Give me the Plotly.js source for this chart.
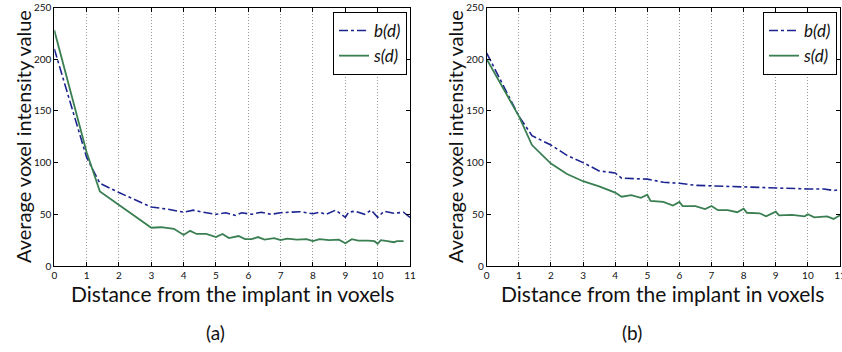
<!DOCTYPE html>
<html>
<head>
<meta charset="utf-8">
<script src="https://cdn.plot.ly/plotly-3.0.1.min.js"></script>
<style>html,body{margin:0;padding:0;background:#fff;}#chart{width:842px;height:352px;}</style>
</head>
<body>
<div id="chart"></div>
<script>
// Panel (a)
const a_b_d = [0, 1, 1.41, 2, 3, 3.5, 4, 4.3, 4.6, 5, 5.3, 5.6, 5.8, 6.1, 6.4, 6.7, 7, 7.3, 7.6, 8, 8.2, 8.4, 8.7, 9, 9.1, 9.3, 9.6, 9.8, 10, 10.2, 10.5, 10.8, 11];
const a_b_v = [210, 105, 80, 71, 57, 55, 52, 54, 52, 50, 51.5, 49, 51.5, 50, 52, 50, 51.5, 52, 52.5, 50.5, 52, 50, 54, 47, 52, 53, 50, 54, 47, 53, 51, 52, 47];
const a_s_d = [0, 1, 1.41, 3, 3.3, 3.7, 4, 4.2, 4.4, 4.7, 5, 5.2, 5.4, 5.7, 5.9, 6.1, 6.3, 6.5, 6.8, 7, 7.2, 7.5, 7.8, 8, 8.2, 8.5, 8.8, 9, 9.2, 9.4, 9.7, 9.9, 10, 10.1, 10.3, 10.5, 10.6, 10.8];
const a_s_v = [228, 110, 72, 37, 37.5, 36, 30, 34, 31, 31, 28, 31, 27, 29, 26, 26, 28, 25.5, 27, 25, 26.5, 25.5, 26, 24, 26, 25, 25.5, 22, 26, 24.5, 24.5, 24, 21.5, 25, 24, 23, 24, 24];
// Panel (b)
const b_b_d = [0, 1, 1.41, 2, 2.5, 3, 3.5, 4, 4.2, 5, 5.5, 6, 6.5, 7, 7.5, 8, 8.5, 9, 9.5, 10, 10.5, 10.8, 11];
const b_b_v = [206, 145, 126, 117, 107, 100, 92, 90, 85, 84, 81, 80, 78, 77.5, 77, 76, 75.5, 75, 75, 74.5, 74.5, 73, 74];
const b_s_d = [0, 1, 1.41, 2, 2.5, 3, 3.5, 4, 4.2, 4.5, 4.8, 5, 5.1, 5.5, 5.8, 6, 6.1, 6.5, 6.8, 7, 7.2, 7.5, 7.8, 8, 8.1, 8.5, 8.7, 9, 9.1, 9.5, 9.9, 10, 10.2, 10.6, 10.8, 11];
const b_s_v = [200, 145, 117, 99, 89, 82, 77, 71, 67, 68.5, 66, 69, 63, 62, 58.5, 62, 58, 58, 55, 58, 54, 54, 52, 55.5, 51.5, 51, 48, 52.5, 49, 49.5, 48, 50, 47, 48, 45.5, 49];

const seriesNames = ['b(d)', 's(d)'];
const xTitle = 'Distance from the implant in voxels';
const yTitle = 'Average voxel intensity value';
const panelLabels = ['(a)', '(b)'];

const FONT = 'Lato, "Open Sans", sans-serif';
const BLUE = '#1c2490';
const GREEN = '#3a7f52';

const traces = [
  {x: a_b_d, y: a_b_v, name: seriesNames[0], xaxis: 'x', yaxis: 'y', legend: 'legend', mode: 'lines', line: {color: BLUE, width: 1.6, dash: 'dashdot'}},
  {x: a_s_d, y: a_s_v, name: seriesNames[1], xaxis: 'x', yaxis: 'y', legend: 'legend', mode: 'lines', line: {color: GREEN, width: 1.8}},
  {x: b_b_d, y: b_b_v, name: seriesNames[0], xaxis: 'x2', yaxis: 'y2', legend: 'legend2', mode: 'lines', line: {color: BLUE, width: 1.6, dash: 'dashdot'}},
  {x: b_s_d, y: b_s_v, name: seriesNames[1], xaxis: 'x2', yaxis: 'y2', legend: 'legend2', mode: 'lines', line: {color: GREEN, width: 1.8}}
];

const W = 842, H = 352;
const yDom = [(H - 266) / H, (H - 7.5) / H];
function xax(dom, anchor) {
  return {
    domain: dom, anchor: anchor, range: [0, 11], dtick: 1, tick0: 0,
    showgrid: true, gridcolor: '#999999', griddash: '1px,2px', gridwidth: 1,
    zeroline: false, showline: true, linecolor: '#000', linewidth: 1, mirror: 'ticks',
    ticks: 'inside', ticklen: 4, tickcolor: '#000', ticklabeloverflow: 'allow',
    tickfont: {family: FONT, size: 10, color: '#111'}, automargin: false, fixedrange: true
  };
}
function yax(dom, anchor) {
  return {
    domain: dom, anchor: anchor, range: [0, 250], dtick: 50, tick0: 0,
    showgrid: false, zeroline: false, showline: true, linecolor: '#000', linewidth: 1, mirror: 'ticks',
    ticks: 'inside', ticklen: 4, tickcolor: '#000',
    tickfont: {family: FONT, size: 10, color: '#111'}, automargin: false, fixedrange: true
  };
}
function legendAt(xr) {
  return {
    x: xr / W, xanchor: 'right', y: (H - 12) / H, yanchor: 'top',
    bgcolor: '#fff', bordercolor: '#000', borderwidth: 1,
    font: {family: FONT, size: 17, color: '#111', style: 'italic'},
    itemwidth: 30, tracegroupgap: 0
  };
}
const layout = {
  width: W, height: H,
  margin: {l: 0, r: 0, t: 0, b: 0},
  paper_bgcolor: '#fff', plot_bgcolor: '#fff',
  showlegend: true,
  font: {family: FONT},
  xaxis: xax([54.3 / W, 410 / W], 'y'),
  yaxis: yax(yDom, 'x'),
  xaxis2: xax([486.7 / W, 840 / W], 'y2'),
  yaxis2: yax(yDom, 'x2'),
  legend: legendAt(407),
  legend2: legendAt(837),
  annotations: [
    {text: yTitle, xref: 'paper', yref: 'paper', x: 23 / W, y: (H - 137) / H, xanchor: 'center', yanchor: 'middle', textangle: -90, showarrow: false, font: {family: FONT, size: 20, color: '#111'}},
    {text: yTitle, xref: 'paper', yref: 'paper', x: 455 / W, y: (H - 137) / H, xanchor: 'center', yanchor: 'middle', textangle: -90, showarrow: false, font: {family: FONT, size: 20, color: '#111'}},
    {text: xTitle, xref: 'paper', yref: 'paper', x: 233 / W, y: (H - 293) / H, xanchor: 'center', yanchor: 'middle', showarrow: false, font: {family: FONT, size: 21, color: '#111'}},
    {text: xTitle, xref: 'paper', yref: 'paper', x: 662 / W, y: (H - 293) / H, xanchor: 'center', yanchor: 'middle', showarrow: false, font: {family: FONT, size: 21, color: '#111'}},
    {text: panelLabels[0], xref: 'paper', yref: 'paper', x: 215 / W, y: (H - 332) / H, xanchor: 'center', yanchor: 'middle', showarrow: false, font: {family: FONT, size: 19, color: '#111'}},
    {text: panelLabels[1], xref: 'paper', yref: 'paper', x: 632 / W, y: (H - 332) / H, xanchor: 'center', yanchor: 'middle', showarrow: false, font: {family: FONT, size: 19, color: '#111'}}
  ]
};
Plotly.newPlot('chart', traces, layout, {displayModeBar: false, staticPlot: true});
</script>
</body>
</html>
